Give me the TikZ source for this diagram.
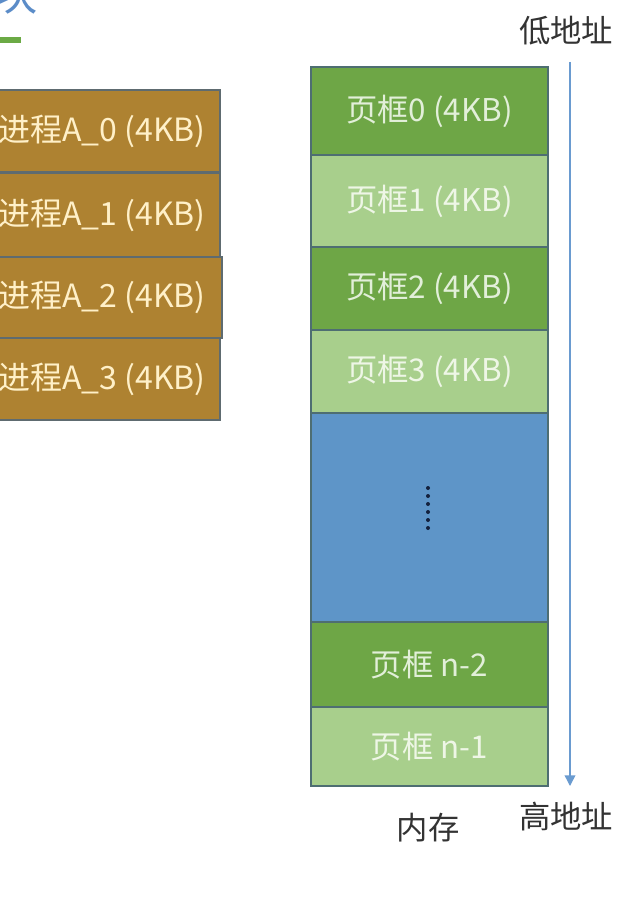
\documentclass[tikz,border=0pt]{standalone}
\usepackage{fontspec}
\setmainfont{Noto Sans CJK SC}
\usetikzlibrary{arrows.meta}
\definecolor{brownfill}{HTML}{AE8231}
\definecolor{boxline}{HTML}{5E6B70}
\definecolor{cream}{HTML}{FFF0C8}
\definecolor{darkg}{HTML}{6EA646}
\definecolor{lightg}{HTML}{A8CF8C}
\definecolor{blockblue}{HTML}{5E95C8}
\definecolor{frameline}{HTML}{4E6E72}
\definecolor{txtdark}{HTML}{E2EFD9}
\definecolor{txtlight}{HTML}{EEF6E6}
\definecolor{arrowblue}{HTML}{6A9BD0}
\definecolor{labelgray}{HTML}{333333}
\definecolor{titleblue}{HTML}{5B8CC8}
\definecolor{barg}{HTML}{6BAA45}
\definecolor{dotnavy}{HTML}{14213D}
\tikzset{
  procbox/.style={draw=boxline, line width=0.9pt, fill=brownfill, inner sep=0pt,
    minimum width=174pt, minimum height=62pt},
  proctext/.style={text=cream, font=\fontsize{24pt}{26pt}\selectfont, inner sep=0pt, anchor=east},
  darkframe/.style={draw=frameline, line width=0.9pt, fill=darkg, inner sep=0pt,
    minimum width=177.75pt, text=txtdark, font=\fontsize{23.5pt}{25pt}\selectfont},
  lightframe/.style={draw=frameline, line width=0.9pt, fill=lightg, inner sep=0pt,
    minimum width=177.75pt, text=txtlight, font=\fontsize{23.5pt}{25pt}\selectfont},
  blueframe/.style={draw=frameline, line width=0.9pt, fill=blockblue, inner sep=0pt,
    minimum width=177.75pt},
  addrlabel/.style={text=labelgray, font=\fontsize{23.5pt}{25pt}\selectfont, inner sep=0pt},
  addrarrow/.style={draw=arrowblue, line width=1.1pt, -{Triangle[width=8pt,length=8pt]}}
}
\begin{document}
\begin{tikzpicture}[x=0.75pt,y=-0.75pt]
\clip (0,0) rectangle (643,899);
\fill[white] (0,0) rectangle (643,899);
% cut-off title fragment and bar
\node[text=titleblue, font=\fontsize{34pt}{36pt}\selectfont, anchor=south east, inner sep=0pt] (title) at (38,14) {块};
\fill[barg] (0,37) rectangle (21,43);
% process pages (left)
\node[procbox, minimum height=61.5pt] (a0) at (104,131) {};
\node[procbox, minimum height=63pt] (a1) at (104,215) {};
\node[procbox, minimum height=60.75pt, minimum width=175.5pt] (a2) at (105,297.5) {};
\node[procbox, minimum height=61.5pt] (a3) at (104,379) {};
\node[proctext] (t0) at (206,131) {进程A\_0 (4KB)};
\node[proctext] (t1) at (206,215) {进程A\_1 (4KB)};
\node[proctext] (t2) at (206,297.5) {进程A\_2 (4KB)};
\node[proctext] (t3) at (206,379) {进程A\_3 (4KB)};
% memory frames (right)
\node[darkframe, minimum height=66pt] (f0) at (429.5,111) {页框0 (4KB)};
\node[lightframe, minimum height=69pt] (f1) at (429.5,201) {页框1 (4KB)};
\node[darkframe, minimum height=62.25pt] (f2) at (429.5,288.5) {页框2 (4KB)};
\node[lightframe, minimum height=62.25pt] (f3) at (429.5,371.5) {页框3 (4KB)};
\node[blueframe, minimum height=156.75pt] (fb) at (429.5,517.5) {};
\node[darkframe, minimum height=63.75pt] (fn2) at (429.5,664.5) {页框 n-2};
\node[lightframe, minimum height=59.25pt] (fn1) at (429.5,746.5) {页框 n-1};
% vertical dots
\foreach \k in {0,...,5} \fill[dotnavy] (428,{488+\k*8}) circle (2);
% address arrow
\coordinate (atop) at (570,62);
\coordinate (abot) at (570,786);
\draw[addrarrow] (atop) -- (abot);
\node[addrlabel] (low) at (566,31) {低地址};
\node[addrlabel] (high) at (566,817) {高地址};
\node[addrlabel] (mem) at (428,828) {内存};
\end{tikzpicture}
\end{document}
